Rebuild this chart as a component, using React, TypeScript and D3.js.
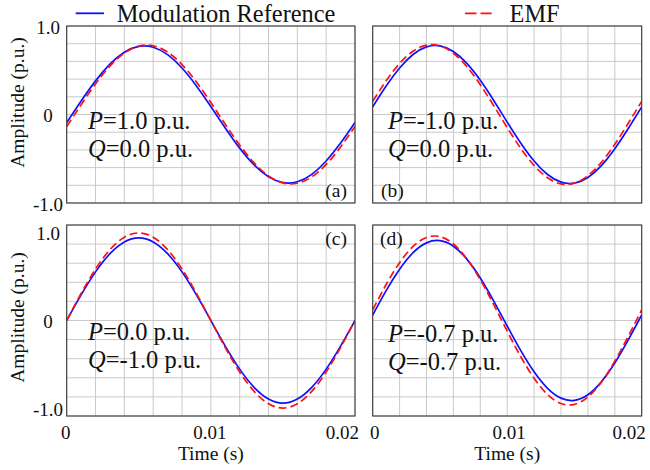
import React from "react";
import * as d3 from "d3";

// ---- data ----
const TIME = [0, 0.001, 0.002, 0.003, 0.004, 0.005, 0.006, 0.007, 0.008, 0.009, 0.01,
  0.011, 0.012, 0.013, 0.014, 0.015, 0.016, 0.017, 0.018, 0.019, 0.02];

const REF_A = [-0.090, 0.152, 0.380, 0.570, 0.704, 0.770, 0.760, 0.676, 0.525, 0.323, 0.090,
  -0.152, -0.380, -0.570, -0.704, -0.770, -0.760, -0.676, -0.525, -0.323, -0.090];
const EMF_A = [-0.135, 0.111, 0.345, 0.546, 0.694, 0.773, 0.777, 0.705, 0.564, 0.367, 0.135,
  -0.111, -0.345, -0.546, -0.694, -0.773, -0.777, -0.705, -0.564, -0.367, -0.135];

const REF_B = [0.086, 0.321, 0.525, 0.678, 0.764, 0.775, 0.711, 0.577, 0.386, 0.158, -0.086,
  -0.321, -0.525, -0.678, -0.764, -0.775, -0.711, -0.577, -0.386, -0.158, 0.086];
const EMF_B = [0.148, 0.381, 0.576, 0.715, 0.784, 0.776, 0.692, 0.541, 0.336, 0.099, -0.148,
  -0.381, -0.576, -0.715, -0.784, -0.776, -0.692, -0.541, -0.336, -0.099, 0.148];

const REF_C = [0, 0.289, 0.550, 0.756, 0.889, 0.935, 0.889, 0.756, 0.550, 0.289, 0,
  -0.289, -0.550, -0.756, -0.889, -0.935, -0.889, -0.756, -0.550, -0.289, 0];
const EMF_C = [0, 0.306, 0.582, 0.801, 0.942, 0.990, 0.942, 0.801, 0.582, 0.306, 0,
  -0.306, -0.582, -0.801, -0.942, -0.990, -0.942, -0.801, -0.582, -0.306, 0];

const REF_D = [0.062, 0.338, 0.580, 0.767, 0.878, 0.903, 0.840, 0.694, 0.481, 0.220, -0.062,
  -0.338, -0.580, -0.767, -0.878, -0.903, -0.840, -0.694, -0.481, -0.220, 0.062];
const EMF_D = [0.120, 0.407, 0.654, 0.838, 0.939, 0.948, 0.865, 0.697, 0.461, 0.179, -0.120,
  -0.407, -0.654, -0.838, -0.939, -0.948, -0.865, -0.697, -0.461, -0.179, 0.120];

const X_TICKS = [0, 0.01, 0.02];
const X_TICK_LABELS = ["0", "0.01", "0.02"];
const Y_TICKS = [1, 0, -1];
const Y_TICK_LABELS = ["1.0", "0", "-1.0"];
const P_LABELS = ["1.0", "-1.0", "0.0", "-0.7"];
const Q_LABELS = ["0.0", "0.0", "-1.0", "-0.7"];
const PANEL_TAGS = ["(a)", "(b)", "(c)", "(d)"];
const LEGEND_LABELS = ["Modulation Reference", "EMF"];
const X_LABEL = "Time (s)";
const Y_LABEL = "Amplitude (p.u.)";

// ---- layout ----
const FONT = "'Liberation Serif', 'Times New Roman', serif";
const BLUE = "#1010ff";
const RED = "#ff1010";

type Panel = {
  x0: number; x1: number; y0: number; y1: number; yDom: [number, number];
  ref: number[]; emf: number[]; left: boolean; bottom: boolean;
  annX: number; annY: number; tagX: number; tagY: number; tagAnchor: string;
};

const PANELS: Panel[] = [
  { x0: 66.7, x1: 355, y0: 26, y1: 203, yDom: [-1, 1], ref: REF_A, emf: EMF_A, left: true, bottom: false,
    annX: 88, annY: 128.5, tagX: 347, tagY: 197, tagAnchor: "end" },
  { x0: 372.7, x1: 641.7, y0: 26, y1: 203, yDom: [-1, 1], ref: REF_B, emf: EMF_B, left: false, bottom: false,
    annX: 388, annY: 129, tagX: 381, tagY: 197, tagAnchor: "start" },
  { x0: 66.7, x1: 355, y0: 225, y1: 416, yDom: [-1.08, 1.08], ref: REF_C, emf: EMF_C, left: true, bottom: true,
    annX: 88, annY: 340, tagX: 347, tagY: 245, tagAnchor: "end" },
  { x0: 372.7, x1: 641.7, y0: 225, y1: 416, yDom: [-1.08, 1.08], ref: REF_D, emf: EMF_D, left: false, bottom: true,
    annX: 388, annY: 341.5, tagX: 380, tagY: 245, tagAnchor: "start" },
];

function PanelView({ p, i }: { p: Panel; i: number }) {
  const x = d3.scaleLinear().domain([0, 0.02]).range([p.x0, p.x1]);
  const y = d3.scaleLinear().domain(p.yDom).range([p.y1, p.y0]);
  const line = d3.line<number>()
    .x((_, k) => x(TIME[k]))
    .y((v) => y(v))
    .curve(d3.curveNatural);
  const xGrid = d3.range(11).map((k) => k * 0.002);
  const yGrid = d3.range(11).map((k) => p.yDom[0] + (k * (p.yDom[1] - p.yDom[0])) / 10);
  const clipId = `clip-${i}`;
  return (
    <g>
      <defs>
        <clipPath id={clipId}>
          <rect x={p.x0} y={p.y0} width={p.x1 - p.x0} height={p.y1 - p.y0} />
        </clipPath>
      </defs>
      <rect x={p.x0} y={p.y0} width={p.x1 - p.x0} height={p.y1 - p.y0} fill="#fff" />
      {xGrid.map((g, k) => (
        <line key={`gx${k}`} x1={x(g)} x2={x(g)} y1={p.y0} y2={p.y1} stroke="#c4c4c4" strokeWidth={0.9} />
      ))}
      {yGrid.map((g, k) => (
        <line key={`gy${k}`} x1={p.x0} x2={p.x1} y1={y(g)} y2={y(g)} stroke="#c4c4c4" strokeWidth={0.9} />
      ))}
      <g clipPath={`url(#${clipId})`}>
        <path d={line(p.ref) || ""} fill="none" stroke={BLUE} strokeWidth={1.7} />
        <path d={line(p.emf) || ""} fill="none" stroke={RED} strokeWidth={1.7} strokeDasharray="8,4" />
      </g>
      <rect x={p.x0} y={p.y0} width={p.x1 - p.x0} height={p.y1 - p.y0} fill="none" stroke="#3a3a3a" strokeWidth={1.1} />
      {p.left && Y_TICKS.map((t, k) => (
        <text key={`yt${k}`} x={48} y={y(t) + 7.5} textAnchor="middle" fontSize={19} fontFamily={FONT} fill="#111">
          {Y_TICK_LABELS[k]}
        </text>
      ))}
      {p.left && (
        <text transform={`translate(24,${(p.y0 + p.y1) / 2 - (p.bottom ? 3 : 12)}) rotate(-90)`} textAnchor="middle"
          fontSize={19.5} fontFamily={FONT} fill="#111">{Y_LABEL}</text>
      )}
      {p.bottom && X_TICKS.map((t, k) => (
        <text key={`xt${k}`} x={k === X_TICKS.length - 1 ? x(t) + 4 : x(t) + (p.left ? -1 : 2)} y={439}
          textAnchor={k === X_TICKS.length - 1 ? "end" : "middle"} fontSize={19} fontFamily={FONT} fill="#111">
          {X_TICK_LABELS[k]}
        </text>
      ))}
      {p.bottom && (
        <text x={x(0.01)} y={460} textAnchor="middle" fontSize={19.5} fontFamily={FONT} fill="#111">{X_LABEL}</text>
      )}
      <text x={p.annX} y={p.annY} fontSize={24.5} fontFamily={FONT} fill="#111">
        <tspan fontStyle="italic">P</tspan>={P_LABELS[i]} p.u.
      </text>
      <text x={p.annX} y={p.annY + 28.3} fontSize={24.5} fontFamily={FONT} fill="#111">
        <tspan fontStyle="italic">Q</tspan>={Q_LABELS[i]} p.u.
      </text>
      <text x={p.tagX} y={p.tagY} textAnchor={p.tagAnchor} fontSize={19.5} fontFamily={FONT} fill="#111">
        {PANEL_TAGS[i]}
      </text>
    </g>
  );
}

export default function App() {
  return (
    <svg width={650} height={470} viewBox="0 0 650 470"
      style={{ position: "absolute", left: 0, top: 0, background: "#fff" }}>
      <rect x={0} y={0} width={650} height={470} fill="#fff" />
      {PANELS.map((p, i) => <PanelView key={i} p={p} i={i} />)}
      {/* legend */}
      <line x1={75.7} x2={104} y1={13.3} y2={13.3} stroke={BLUE} strokeWidth={1.8} />
      <text x={116.7} y={22} fontSize={24.4} fontFamily={FONT} fill="#111">{LEGEND_LABELS[0]}</text>
      <line x1={465} x2={491.7} y1={13.3} y2={13.3} stroke={RED} strokeWidth={1.8} strokeDasharray="11.5,4" />
      <text x={509.5} y={22} fontSize={24.4} fontFamily={FONT} fill="#111">{LEGEND_LABELS[1]}</text>
    </svg>
  );
}
